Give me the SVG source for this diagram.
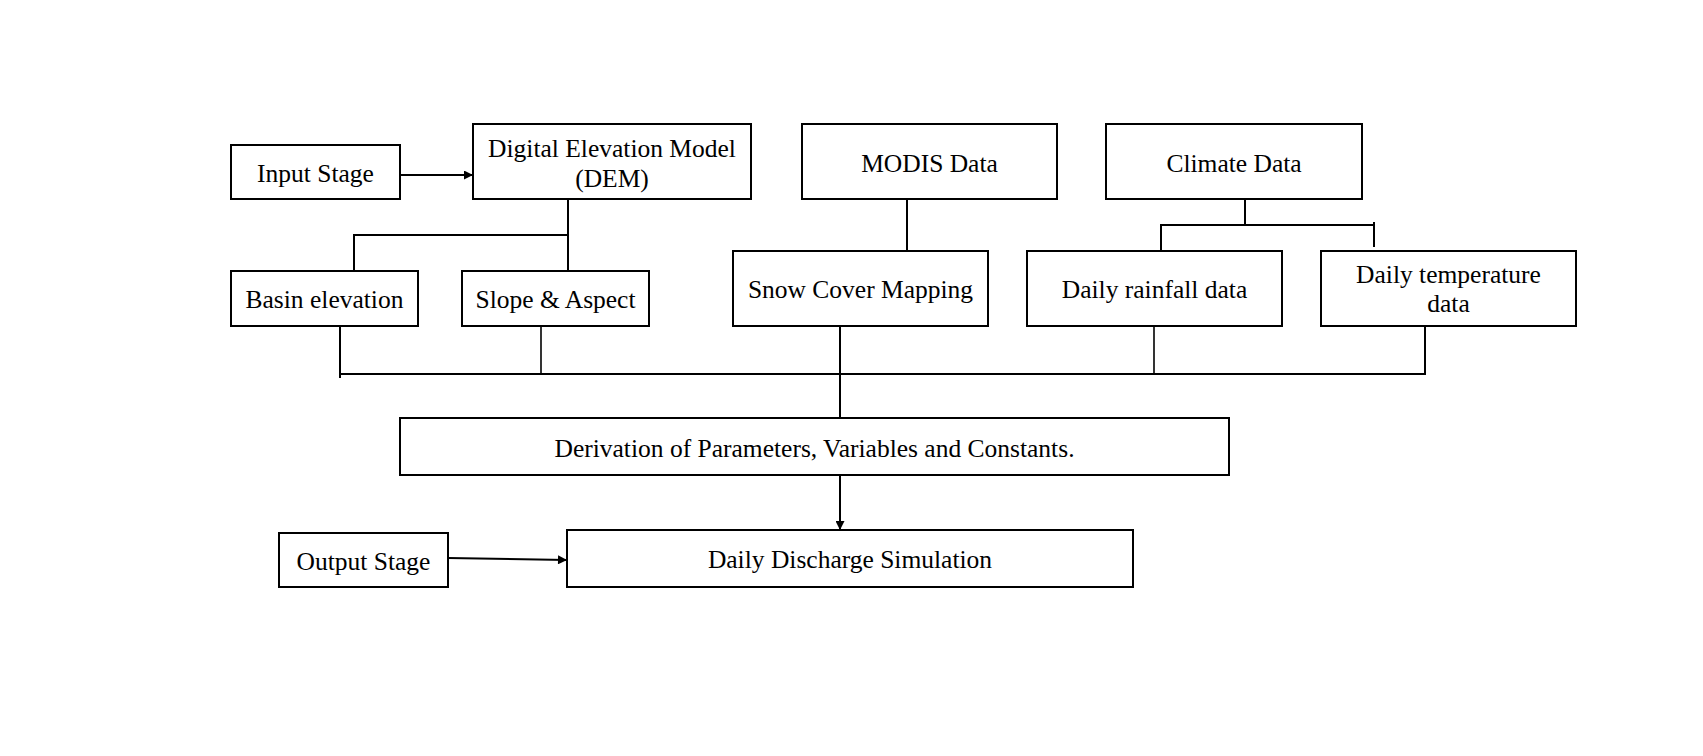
<svg xmlns="http://www.w3.org/2000/svg" width="1703" height="756" viewBox="0 0 1703 756">
<style>
.box{fill:#fff;stroke:#000;stroke-width:2}
.t{font-family:"Liberation Serif","Times New Roman",serif;font-size:25.5px;fill:#000;text-anchor:middle}
.c{fill:none;stroke:#000;stroke-width:2}
.thin{fill:none;stroke:#000;stroke-width:1.6}
</style>
<defs>
<marker id="ah" viewBox="0 0 10 10" refX="10" refY="5" markerWidth="10" markerHeight="9" markerUnits="userSpaceOnUse" orient="auto">
<path d="M0,0 L10,5 L0,10 Z" fill="#000"/>
</marker>
</defs>
<rect width="1703" height="756" fill="#fff"/>
<g id="connectors">
<line class="c" x1="400" y1="175" x2="473" y2="175" marker-end="url(#ah)"/>
<polyline class="c" points="568,199 568,271"/>
<polyline class="c" points="568,235 354,235 354,271"/>
<line class="c" x1="907" y1="199" x2="907" y2="251"/>
<line class="c" x1="1245" y1="199" x2="1245" y2="225"/>
<polyline class="c" points="1161,251 1161,225 1374,225"/>
<line class="c" x1="1374" y1="222" x2="1374" y2="247"/>
<line class="c" x1="340" y1="374" x2="1426" y2="374"/>
<line class="c" x1="340" y1="326" x2="340" y2="378"/>
<line class="thin" x1="541" y1="323" x2="541" y2="374"/>
<line class="c" x1="840" y1="326" x2="840" y2="418"/>
<line class="thin" x1="1154" y1="323" x2="1154" y2="374"/>
<line class="c" x1="1425" y1="326" x2="1425" y2="374"/>
<line class="c" x1="840" y1="475" x2="840" y2="530" marker-end="url(#ah)"/>
<line class="c" x1="448" y1="558" x2="567" y2="560" marker-end="url(#ah)"/>
</g>
<g id="input-stage"><rect class="box" x="231" y="145" width="169" height="54"/><text class="t" x="315.5" y="182">Input Stage</text></g>
<g id="dem"><rect class="box" x="473" y="124" width="278" height="75"/><text class="t" x="612" y="157">Digital Elevation Model</text><text class="t" x="612" y="187">(DEM)</text></g>
<g id="modis"><rect class="box" x="802" y="124" width="255" height="75"/><text class="t" x="929.5" y="172">MODIS Data</text></g>
<g id="climate"><rect class="box" x="1106" y="124" width="256" height="75"/><text class="t" x="1234" y="172">Climate Data</text></g>
<g id="basin"><rect class="box" x="231" y="271" width="187" height="55"/><text class="t" x="324.5" y="308">Basin elevation</text></g>
<g id="slope"><rect class="box" x="462" y="271" width="187" height="55"/><text class="t" x="555.5" y="308">Slope &amp; Aspect</text></g>
<g id="snow"><rect class="box" x="733" y="251" width="255" height="75"/><text class="t" x="860.5" y="298">Snow Cover Mapping</text></g>
<g id="rainfall"><rect class="box" x="1027" y="251" width="255" height="75"/><text class="t" x="1154.5" y="298">Daily rainfall data</text></g>
<g id="temperature"><rect class="box" x="1321" y="251" width="255" height="75"/><text class="t" x="1448.5" y="283">Daily temperature</text><text class="t" x="1448.5" y="312">data</text></g>
<g id="derivation"><rect class="box" x="400" y="418" width="829" height="57"/><text class="t" x="814.5" y="457">Derivation of Parameters, Variables and Constants.</text></g>
<g id="output-stage"><rect class="box" x="279" y="533" width="169" height="54"/><text class="t" x="363.5" y="570">Output Stage</text></g>
<g id="discharge"><rect class="box" x="567" y="530" width="566" height="57"/><text class="t" x="850" y="568">Daily Discharge Simulation</text></g>
</svg>
